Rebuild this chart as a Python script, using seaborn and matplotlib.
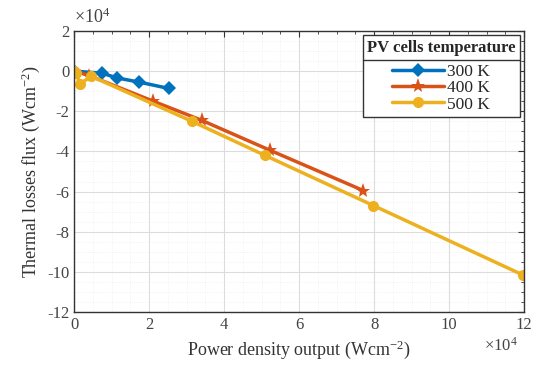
import matplotlib
matplotlib.use("Agg")
import matplotlib.pyplot as plt
import pandas as pd
import seaborn as sns
from matplotlib.lines import Line2D
from matplotlib.ticker import MultipleLocator

# values in units of 1e4
x_300 = [0.0, 0.74, 1.15, 1.72, 2.52]
y_300 = [0.0, -0.1, -0.34, -0.54, -0.86]

x_400 = [0.0, 0.4, 2.11, 3.4, 5.23, 7.71]
y_400 = [0.0, -0.22, -1.5, -2.45, -3.95, -5.95]

x_500 = [0.0, 0.05, 0.15, 0.45, 3.14, 5.09, 7.98, 11.98]
y_500 = [0.0, -0.1, -0.65, -0.25, -2.5, -4.2, -6.7, -10.17]

labels = ["300 K", "400 K", "500 K"]
colors = ["#0072BD", "#D95319", "#EDB120"]
marker_map = {"300 K": "D", "400 K": "*", "500 K": "o"}
marker_size = {"300 K": 7, "400 K": 11, "500 K": 8}

frames = []
for lab, xs, ys in zip(labels, [x_300, x_400, x_500], [y_300, y_400, y_500]):
    frames.append(pd.DataFrame({"power": xs, "loss": ys, "T": lab}))
df = pd.concat(frames, ignore_index=True)

sns.set_style("white")
plt.rcParams["font.family"] = ["Liberation Serif", "DejaVu Serif"]
plt.rcParams["mathtext.fontset"] = "custom"
plt.rcParams["mathtext.rm"] = "Liberation Serif"
plt.rcParams["mathtext.it"] = "Liberation Serif:italic"
plt.rcParams["axes.unicode_minus"] = False

fig = plt.figure(figsize=(5.5, 3.74), dpi=100)
ax = fig.add_axes([0.135, 0.166, 0.818, 0.751])

sns.lineplot(
    data=df, x="power", y="loss", hue="T", style="T",
    palette=colors, markers=marker_map,
    dashes=False, sort=False, estimator=None, units="T",
    linewidth=2.5, markersize=8, markeredgewidth=0, ax=ax, legend=False,
)
for line, lab in zip(ax.lines, labels):
    line.set_markersize(marker_size[lab])

ax.set_xlim(0, 12)
ax.set_ylim(-12, 2)
ax.xaxis.set_major_locator(MultipleLocator(2))
ax.yaxis.set_major_locator(MultipleLocator(2))
ax.xaxis.set_minor_locator(MultipleLocator(0.5))
ax.yaxis.set_minor_locator(MultipleLocator(0.5))
ax.grid(True, which="major", color="#dcdcdc", linewidth=0.8)
ax.grid(True, which="minor", color="#eeeeee", linewidth=0.6, linestyle=":")
ax.set_axisbelow(True)
ax.tick_params(which="both", direction="in", top=True, right=True, colors="#333333",
               labelcolor="#444444", labelsize=12)
ax.tick_params(which="major", length=4)
ax.tick_params(which="minor", length=2)
for s in ax.spines.values():
    s.set_color("#333333")
    s.set_linewidth(1.0)

ax.set_xlabel("Power density output (Wcm$^{-2}$)", fontsize=13, color="#333333")
ax.set_ylabel("Thermal losses flux (Wcm$^{-2}$)", fontsize=13, color="#333333")

ax.text(0.0, 1.015, r"$\times10^{4}$", transform=ax.transAxes, fontsize=13,
        color="#444444", ha="left", va="bottom")
ax.text(0.985, -0.09, r"$\times10^{4}$", transform=ax.transAxes, fontsize=12,
        color="#444444", ha="right", va="top")

handles = [Line2D([], [], color=c, lw=2.5, marker=marker_map[l], markersize=marker_size[l],
                  markeredgewidth=0) for l, c in zip(labels, colors)]
leg = ax.legend(handles, labels, title="PV cells temperature", loc="upper right", fontsize=12.5,
                title_fontproperties={"weight": "bold", "size": 12},
                handlelength=3.0, handletextpad=0.2, frameon=True, fancybox=False,
                edgecolor="#333333", framealpha=1, borderaxespad=0.25, labelspacing=0.0,
                borderpad=0.25)
leg.get_frame().set_linewidth(1.0)
leg._legend_box.sep = 6  # gap between title and entries

# separator line under legend title (MATLAB style)
fig.canvas.draw()
renderer = fig.canvas.get_renderer()
fb = leg.get_frame().get_window_extent(renderer)
tb = leg.get_title().get_window_extent(renderer)
eb = leg.get_texts()[0].get_window_extent(renderer)
ymid = 0.5 * (tb.y0 + eb.y1)
inv = fig.transFigure.inverted()
(x0, ysep), (x1, _) = inv.transform([(fb.x0, ymid), (fb.x1, ymid)])
fig.add_artist(Line2D([x0, x1], [ysep, ysep], color="#333333", lw=1.0,
                      transform=fig.transFigure))

fig.savefig("out.png", dpi=100)
